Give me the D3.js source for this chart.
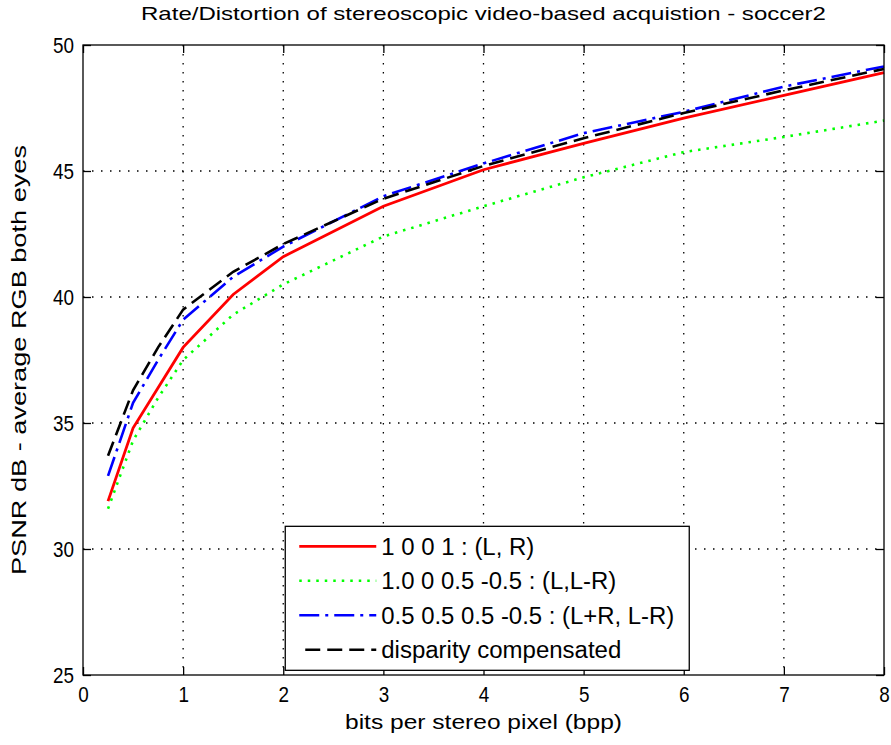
<!DOCTYPE html>
<html lang="en">
<head>
    <meta charset="UTF-8">
    <title>Rate/Distortion of stereoscopic video-based acquistion - soccer2</title>
    <script src="https://d3js.org/d3.v7.min.js"></script>
    <style>
        body {
            margin: 0;
            background: #fff;
        }
        text {
            font-family: "Liberation Sans", Arial, sans-serif;
            fill: #000;
        }
        .grid-line {
            stroke: #000;
            stroke-width: 1.3;
            stroke-dasharray: 1.5 7.5;
        }
    </style>
</head>
<body>

<svg id="chart" width="891" height="745"></svg>

<script>
    // values
    const bpp = [0.25, 0.5, 0.75, 1, 1.5, 2, 3, 4, 5, 6, 7, 8];
    const psnrLR = [31.9, 34.8, 36.4, 38.0, 40.1, 41.6, 43.6, 45.05, 46.1, 47.1, 48.0, 48.9];
    const psnrLLR = [31.6, 34.3, 36.0, 37.5, 39.3, 40.5, 42.4, 43.6, 44.75, 45.75, 46.35, 47.0];
    const psnrSum = [32.9, 35.8, 37.5, 39.1, 40.8, 42.0, 44.0, 45.3, 46.5, 47.35, 48.35, 49.15];
    const psnrDisp = [33.7, 36.3, 38.0, 39.5, 41.0, 42.1, 43.9, 45.2, 46.3, 47.3, 48.2, 49.05];

    const seriesNames = ["1 0 0 1 : (L, R)", "1.0 0 0.5 -0.5 : (L,L-R)", "0.5 0.5 0.5 -0.5 : (L+R, L-R)", "disparity compensated"];
    const xTicks = [0, 1, 2, 3, 4, 5, 6, 7, 8];
    const yTicks = [25, 30, 35, 40, 45, 50];

    const title = "Rate/Distortion of stereoscopic video-based acquistion - soccer2";
    const xLabel = "bits per stereo pixel (bpp)";
    const yLabel = "PSNR dB - average RGB both eyes";

    const series = [
        { name: seriesNames[0], values: psnrLR, color: "#ff0000", dash: null, width: 2.8 },
        { name: seriesNames[1], values: psnrLLR, color: "#00ff00", dash: "2.5 6", width: 2.6 },
        { name: seriesNames[2], values: psnrSum, color: "#0000ff", dash: "20 6 3 6", width: 2.6 },
        { name: seriesNames[3], values: psnrDisp, color: "#000000", dash: "15 7", width: 2.6 }
    ];

    const margin = { top: 45, right: 7, bottom: 70, left: 83 };
    const width = 891 - margin.left - margin.right;
    const height = 745 - margin.top - margin.bottom;

    const svg = d3.select("#chart")
        .append("g")
        .attr("transform", `translate(${margin.left},${margin.top})`);

    const x = d3.scaleLinear().domain([0, 8]).range([0, width]);
    const y = d3.scaleLinear().domain([25, 50]).range([height, 0]);

    // grid
    xTicks.slice(1, -1).forEach(t => {
        svg.append("line")
            .attr("class", "grid-line")
            .attr("x1", x(t)).attr("x2", x(t))
            .attr("y1", 0).attr("y2", height);
    });
    yTicks.slice(1, -1).forEach(t => {
        svg.append("line")
            .attr("class", "grid-line")
            .attr("x1", 0).attr("x2", width)
            .attr("y1", y(t)).attr("y2", y(t));
    });

    // lines
    const line = d3.line()
        .x((d, i) => x(bpp[i]))
        .y(d => y(d));

    series.forEach(s => {
        svg.append("path")
            .datum(s.values)
            .attr("fill", "none")
            .attr("stroke", s.color)
            .attr("stroke-width", s.width)
            .attr("stroke-dasharray", s.dash)
            .attr("d", line);
    });

    // axes, matlab style ticks on all four sides pointing inward
    const tickLen = 8;
    const narrow = g => g.selectAll("text")
        .attr("font-size", "22px")
        .attr("textLength", function() { return this.textContent.length * 10.5; })
        .attr("lengthAdjust", "spacingAndGlyphs");

    svg.append("g")
        .attr("transform", `translate(0,${height})`)
        .call(d3.axisBottom(x).tickValues(xTicks).tickSizeInner(-tickLen).tickSizeOuter(0).tickPadding(11))
        .call(narrow)
        .call(g => g.selectAll("text").attr("dy", "0.72em"));
    svg.append("g")
        .call(d3.axisTop(x).tickValues(xTicks).tickSizeInner(-tickLen).tickSizeOuter(0).tickFormat(""));
    svg.append("g")
        .call(d3.axisLeft(y).tickValues(yTicks).tickSizeInner(-tickLen).tickSizeOuter(0).tickPadding(9))
        .call(narrow);
    svg.append("g")
        .attr("transform", `translate(${width},0)`)
        .call(d3.axisRight(y).tickValues(yTicks).tickSizeInner(-tickLen).tickSizeOuter(0).tickFormat(""));

    svg.selectAll(".domain").remove();
    svg.selectAll(".tick line").attr("stroke", "#000").attr("stroke-width", 1.3);
    svg.selectAll(".tick text").attr("font-family", "Liberation Sans, Arial, sans-serif").attr("fill", "#000");

    svg.append("rect")
        .attr("width", width)
        .attr("height", height)
        .attr("fill", "none")
        .attr("stroke", "#000")
        .attr("stroke-width", 1.3);

    // titles
    svg.append("text")
        .attr("x", width / 2)
        .attr("y", -25)
        .attr("text-anchor", "middle")
        .attr("font-size", "19px")
        .attr("textLength", 685)
        .attr("lengthAdjust", "spacingAndGlyphs")
        .text(title);

    svg.append("text")
        .attr("x", width / 2)
        .attr("y", height + 54)
        .attr("text-anchor", "middle")
        .attr("font-size", "20px")
        .attr("textLength", 277)
        .attr("lengthAdjust", "spacingAndGlyphs")
        .text(xLabel);

    svg.append("text")
        .attr("transform", `translate(-57,${height / 2}) rotate(-90)`)
        .attr("text-anchor", "middle")
        .attr("font-size", "20px")
        .attr("textLength", 430)
        .attr("lengthAdjust", "spacingAndGlyphs")
        .text(yLabel);

    // legend
    const legendW = [153, 235, 293, 240];
    const legend = svg.append("g")
        .attr("transform", `translate(${x(2.02)},${y(30.9)})`);

    legend.append("rect")
        .attr("width", 404)
        .attr("height", 144)
        .attr("fill", "#fff")
        .attr("stroke", "#000")
        .attr("stroke-width", 1.3);

    series.forEach((s, i) => {
        const row = legend.append("g").attr("transform", `translate(0,${20 + i * 34.5})`);
        row.append("line")
            .attr("x1", s.dash === "15 7" ? 20 : 14)
            .attr("x2", 91)
            .attr("stroke", s.color)
            .attr("stroke-width", s.width)
            .attr("stroke-dasharray", s.dash);
        row.append("text")
            .attr("x", 96)
            .attr("dy", "0.36em")
            .attr("font-size", "23px")
            .attr("textLength", legendW[i])
            .attr("lengthAdjust", "spacingAndGlyphs")
            .text(s.name);
    });
</script>

</body>
</html>
